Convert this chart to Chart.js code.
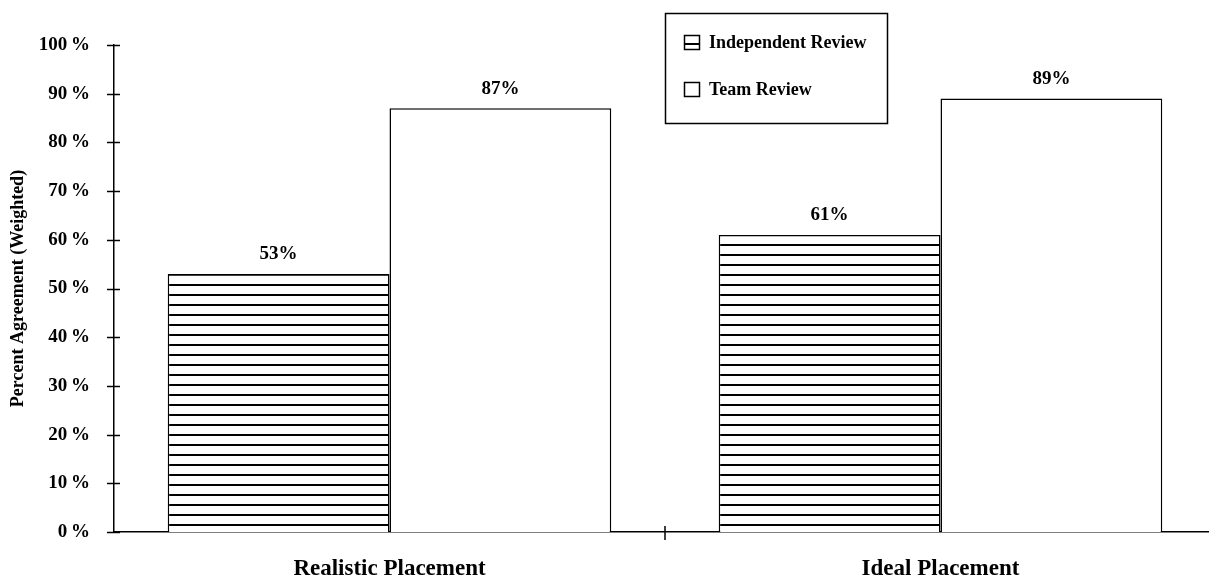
<!DOCTYPE html>
<html lang="en">
<head>
    <meta charset="UTF-8">
    <title>Percent Agreement</title>
    <style>
        html, body { margin: 0; padding: 0; background: #fff; overflow: hidden; }
        #wrap { position: relative; width: 1216px; height: 583px; }
    </style>
</head>
<body>
    <div id="wrap">
        <canvas id="agreementChart"></canvas>
    </div>
    <script src="https://cdn.jsdelivr.net/npm/chart.js"></script>

    <script>
        // data
        const categories = ['Realistic Placement', 'Ideal Placement'];
        const seriesNames = ['Independent Review', 'Team Review'];
        const independentValues = [53, 61];
        const teamValues = [87, 89];
        const yTickLabels = ['0\u2009%', '10\u2009%', '20\u2009%', '30\u2009%', '40\u2009%', '50\u2009%',
                             '60\u2009%', '70\u2009%', '80\u2009%', '90\u2009%', '100\u2009%'];

        const serif = "'Liberation Serif', 'Times New Roman', serif";

        // horizontal stripes for the independent bars
        function stripePattern() {
            const c = document.createElement('canvas');
            c.width = 10;
            c.height = 10;
            const g = c.getContext('2d');
            g.fillStyle = '#fff';
            g.fillRect(0, 0, 10, 10);
            g.fillStyle = '#000';
            g.fillRect(0, 4, 10, 2);
            return g.createPattern(c, 'repeat');
        }
        const stripes = stripePattern();

        // tick marks crossing the axes, the value labels and the boxed legend
        const extras = {
            id: 'extras',
            afterDatasetsDraw(chart) {
                const ctx = chart.ctx;
                const y = chart.scales.y;
                const x = chart.scales.x;
                const ax = chart.chartArea.left;
                const ay = chart.chartArea.bottom;
                ctx.save();
                ctx.strokeStyle = '#000';
                ctx.lineWidth = 1.5;
                y.ticks.forEach(t => {
                    const py = Math.round(y.getPixelForValue(t.value)) + 0.5;
                    ctx.beginPath();
                    ctx.moveTo(ax - 7, py);
                    ctx.lineTo(ax + 6, py);
                    ctx.stroke();
                });
                const mid = (x.getPixelForValue(0) + x.getPixelForValue(1)) / 2;
                ctx.beginPath();
                ctx.moveTo(mid, ay - 6);
                ctx.lineTo(mid, ay + 8);
                ctx.stroke();

                // value labels
                ctx.fillStyle = '#000';
                ctx.font = 'bold 19px ' + serif;
                ctx.textAlign = 'center';
                ctx.textBaseline = 'bottom';
                chart.data.datasets.forEach((ds, i) => {
                    chart.getDatasetMeta(i).data.forEach((bar, j) => {
                        ctx.fillText(ds.data[j] + '%', bar.x, bar.y - 10);
                    });
                });

                // legend
                const lx = 665.5, ly = 13.5, lw = 222, lh = 110;
                ctx.fillStyle = '#fff';
                ctx.fillRect(lx, ly, lw, lh);
                ctx.lineWidth = 1.5;
                ctx.strokeRect(lx, ly, lw, lh);
                ctx.font = 'bold 18px ' + serif;
                ctx.textAlign = 'left';
                ctx.textBaseline = 'middle';
                const rows = [42, 89];
                chart.data.datasets.forEach((ds, i) => {
                    const ry = rows[i];
                    ctx.fillStyle = '#fff';
                    ctx.fillRect(684, ry - 7, 15, 14);
                    if (i === 0) {
                        ctx.fillStyle = '#000';
                        ctx.fillRect(684, ry + 1, 15, 2);
                    }
                    ctx.strokeStyle = '#000';
                    ctx.lineWidth = 1.5;
                    ctx.strokeRect(684.5, ry - 6.5, 15, 14);
                    ctx.fillStyle = '#000';
                    ctx.fillText(ds.label, 709, ry + 1);
                });
                ctx.restore();
            }
        };

        new Chart(document.getElementById('agreementChart'), {
            type: 'bar',
            data: {
                labels: categories,
                datasets: [{
                    label: seriesNames[0],
                    data: independentValues,
                    backgroundColor: stripes,
                    borderColor: '#000',
                    borderWidth: 1.5
                }, {
                    label: seriesNames[1],
                    data: teamValues,
                    backgroundColor: '#fff',
                    borderColor: '#000',
                    borderWidth: 1.5
                }]
            },
            options: {
                responsive: true,
                maintainAspectRatio: false,
                animation: false,
                layout: { padding: { top: 45, left: 0, right: 0, bottom: 0 } },
                datasets: {
                    bar: { categoryPercentage: 0.805, barPercentage: 1 }
                },
                plugins: {
                    legend: { display: false },
                    tooltip: { enabled: false }
                },
                scales: {
                    x: {
                        grid: { display: false },
                        border: { display: true, color: '#000', width: 1.5 },
                        ticks: {
                            color: '#000',
                            padding: 15,
                            font: { family: serif, size: 23, weight: 'bold' }
                        },
                        afterFit(scale) { scale.height = 51; }
                    },
                    y: {
                        min: 0,
                        max: 100,
                        grid: { display: false, drawTicks: false },
                        border: { display: true, color: '#000', width: 1.5 },
                        ticks: {
                            stepSize: 10,
                            color: '#000',
                            padding: 24,
                            font: { family: serif, size: 19, weight: 'bold' },
                            callback: (v, i) => yTickLabels[i]
                        },
                        title: {
                            display: true,
                            text: 'Percent Agreement (Weighted)',
                            color: '#000',
                            padding: { top: 8, bottom: 0 },
                            font: { family: serif, size: 18, weight: 'bold' }
                        },
                        afterFit(scale) { scale.width = 114; }
                    }
                }
            },
            plugins: [extras]
        });
    </script>
</body>
</html>
